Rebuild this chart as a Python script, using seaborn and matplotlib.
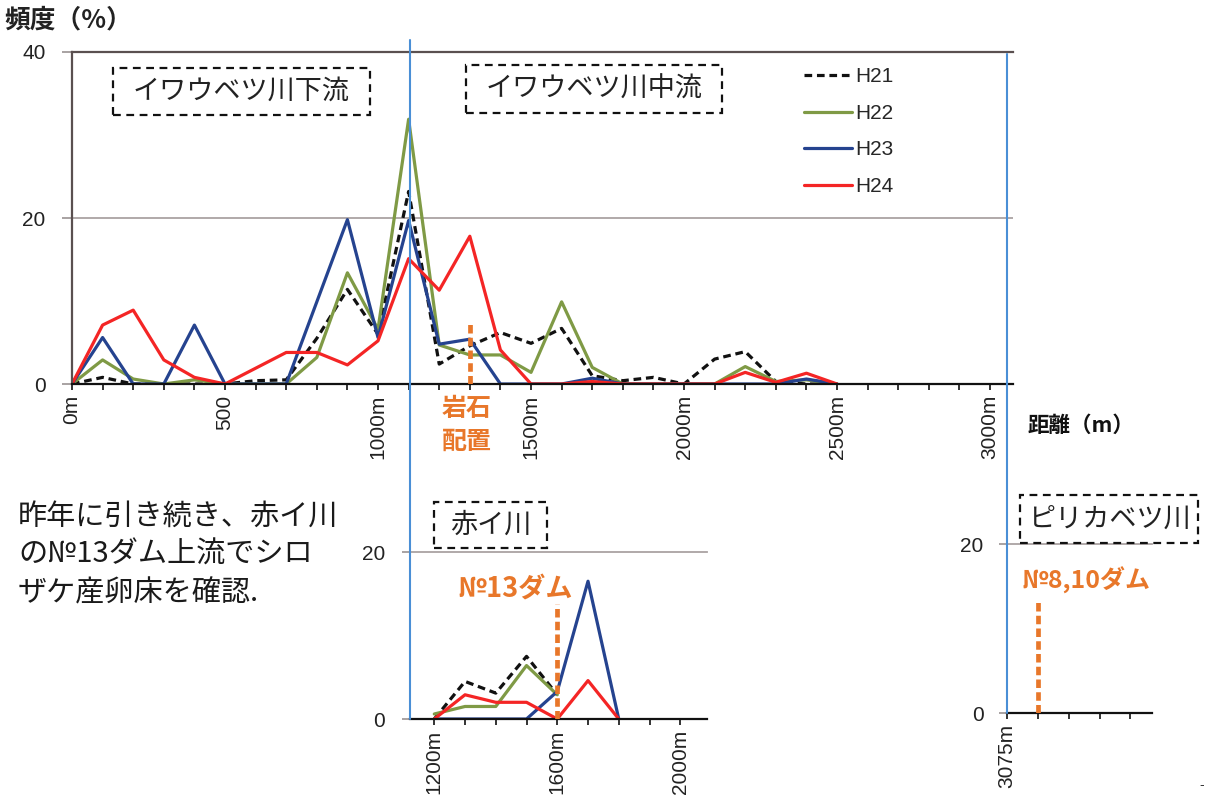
import numpy as np
import pandas as pd
import matplotlib
matplotlib.use("Agg")
import matplotlib.pyplot as plt
from matplotlib.patches import Rectangle
from matplotlib.lines import Line2D
import seaborn as sns

# ---- data ----
years = ["H21", "H22", "H23", "H24"]

# Iwaubetsu river, lower + middle reach (m, %)
dist_main = [0, 100, 200, 300, 400, 500, 600, 700, 800, 900, 1000, 1100, 1200,
             1300, 1400, 1500, 1600, 1700, 1800, 1900, 2000, 2100, 2200, 2300,
             2400, 2500]
main_h21 = [0, 0.8, 0, 0, 0, 0, 0.4, 0.5, 5.5, 11.4, 6.0, 23.2, 2.4, 4.6, 6.2,
            4.9, 6.7, 1.0, 0.4, 0.8, 0, 3.0, 3.9, 0.3, 0, 0]
main_h22 = [0, 2.9, 0.6, 0, 0.5, 0, 0, 0, 3.2, 13.4, 6.6, 31.9, 4.7, 3.5, 3.5,
            1.4, 9.9, 2.0, 0, 0, 0, 0, 2.1, 0.3, 0.5, 0]
main_h23 = [0, 5.6, 0, 0, 7.1, 0, 0, 0, 9.9, 19.8, 5.6, 19.7, 4.8, 5.4, 0, 0,
            0, 0.7, 0, 0, 0, 0, 0, 0, 0.6, 0]
main_h24 = [0, 7.1, 8.9, 2.9, 0.8, 0, 1.9, 3.8, 3.8, 2.3, 5.2, 15.1, 11.3, 17.8,
            4.1, 0, 0, 0.3, 0, 0, 0, 0, 1.4, 0.2, 1.3, 0]

# Akai river
dist_akai = [1200, 1300, 1400, 1500, 1600, 1700, 1800]
akai_h21 = [0, 4.5, 3.1, 7.5, 2.9, np.nan, np.nan]
akai_h22 = [0.6, 1.5, 1.5, 6.4, 2.9, np.nan, np.nan]
akai_h23 = [0, 0, 0, 0, 3.3, 16.5, 0]
akai_h24 = [0, 2.9, 2.0, 2.0, 0, 4.6, 0]

main_xlabels = {0: "0m", 500: "500", 1000: "1000m", 1500: "1500m",
                2000: "2000m", 2500: "2500m", 3000: "3000m"}
akai_xlabels = {1200: "1200m", 1600: "1600m", 2000: "2000m"}
pirika_ticks = [3075, 3175, 3275, 3375, 3475]

rock_pos, rock_h = 1300, 7.5
dam13_pos, dam13_h = 1600, 13.8
dam810_pos, dam810_h = 3175, 13.2

colors = {"H21": "#111111", "H22": "#7f9a45", "H23": "#25438f", "H24": "#f42525"}
dashes = {"H21": (2.4, 1.5), "H22": "", "H23": "", "H24": ""}
ORANGE = "#e8772a"
SEP = "#4a8fd6"

def to_long(x, series):
    rows = []
    for yr, vals in zip(years, series):
        for d, v in zip(x, vals):
            rows.append({"dist": d, "freq": v, "year": yr})
    return pd.DataFrame(rows)

df_main = to_long(dist_main, [main_h21, main_h22, main_h23, main_h24])
df_akai = to_long(dist_akai, [akai_h21, akai_h22, akai_h23, akai_h24])

# ---- figure ----
sns.set_theme(style="white")
plt.rcParams["font.family"] = ["Liberation Sans", "Noto Sans CJK JP", "DejaVu Sans"]
JP = ["Noto Sans CJK JP", "DejaVu Sans"]

W, H = 1205, 805
fig = plt.figure(figsize=(W / 100, H / 100), dpi=100)
fig.patch.set_facecolor("white")

def fx(x):
    return x / W

def fy(y):
    return 1 - y / H

def px_axes(l, t, r, b):
    return fig.add_axes([fx(l), fy(b), (r - l) / W, (b - t) / H])

def style_axes(ax, ytick_len, ypad):
    for s in ["right", "left"]:
        ax.spines[s].set_visible(False)
    ax.spines["bottom"].set_color("#111111")
    ax.spines["bottom"].set_linewidth(1.6)
    ax.spines["top"].set_color("#aaa2a2")
    ax.spines["top"].set_linewidth(1.3)
    ax.tick_params(axis="x", direction="out", length=4, width=1.2,
                   color="#111111", labelsize=15, pad=4, labelcolor="#222222",
                   bottom=True, labelrotation=90)
    ax.tick_params(axis="y", direction="out", length=ytick_len, width=1.2,
                   color="#9a9292", labelsize=15, pad=ypad, labelcolor="#222222",
                   left=True)
    ax.set_xlabel("")
    ax.set_ylabel("")
    ax.grid(False)

def draw_lines(ax, df, legend):
    sns.lineplot(data=df, x="dist", y="freq", hue="year", style="year",
                 palette=colors, dashes=dashes, hue_order=years,
                 style_order=years, linewidth=2.3, legend=legend, ax=ax,
                 sort=True)

def dam_line(ax, pos, height):
    ax.plot([pos, pos], [0, height], color=ORANGE, lw=3.4,
            ls=(0, (1.8, 0.9)), zorder=5)

# main chart
ax = px_axes(72, 52, 1013, 384)
draw_lines(ax, df_main, True)
ax.set_xlim(0, 3075)
ax.set_ylim(0, 40)
ticks = list(range(0, 3001, 100))
ax.set_xticks(ticks)
ax.set_xticklabels([main_xlabels.get(t, "") for t in ticks])
ax.set_yticks([0, 20, 40])
ax.set_yticklabels(["0", "20", "40"])
style_axes(ax, 7, 12)
ax.spines["top"].set_color("#5a5050")
ax.spines["top"].set_linewidth(1.6)
ax.spines["left"].set_visible(True)
ax.spines["left"].set_color("#5a5050")
ax.spines["left"].set_linewidth(1.6)
ax.axhline(20, color="#aaa2a2", lw=1.3, zorder=0)
dam_line(ax, rock_pos, rock_h)

handles, labels = ax.get_legend_handles_labels()
ax.legend(handles, labels, loc="upper left", bbox_to_anchor=(fx(794), fy(57)),
          bbox_transform=fig.transFigure, frameon=False,
          prop={"family": "Liberation Sans", "size": 15},
          handlelength=2.3, handletextpad=0.15, labelspacing=0.84, borderpad=0)

# Akai river chart
ax2 = px_axes(410, 552, 707, 719)
draw_lines(ax2, df_akai, False)
ax2.set_xlim(1121, 2087)
ax2.set_ylim(0, 20)
t2 = list(range(1200, 2001, 100))
ax2.set_xticks(t2)
ax2.set_xticklabels([akai_xlabels.get(t, "") for t in t2])
ax2.set_yticks([0, 20])
ax2.set_yticklabels(["0", "20"])
style_axes(ax2, 6, 12)
dam_line(ax2, dam13_pos, dam13_h)

# Pirikabetsu river chart (no records)
ax3 = px_axes(1007, 544, 1152, 713)
ax3.set_xlim(3075, 3545)
ax3.set_ylim(0, 20)
ax3.set_xticks(pirika_ticks)
ax3.set_xticklabels(["3075m"] + [""] * (len(pirika_ticks) - 1))
ax3.set_yticks([0, 20])
ax3.set_yticklabels(["0", "20"])
style_axes(ax3, 6, 11)
dam_line(ax3, dam810_pos, dam810_h)

# blue separator lines
fig.add_artist(Line2D([fx(410), fx(410)], [fy(40), fy(719)], color=SEP, lw=1.5))
fig.add_artist(Line2D([fx(1007), fx(1007)], [fy(54), fy(713)], color=SEP, lw=1.5))

# dashed label boxes
def label_box(l, t, r, b, text):
    fig.add_artist(Rectangle((fx(l), fy(b)), (r - l) / W, (b - t) / H,
                             transform=fig.transFigure, fill=True, fc="white",
                             ec="#111111", lw=1.6, ls=(0, (3.5, 2.5)), zorder=3))
    fig.text(fx((l + r) / 2), fy((t + b) / 2), text, ha="center", va="center",
             fontsize=19.5, family=JP, color="#222222", zorder=4)

label_box(113, 68, 370, 115, "イワウベツ川下流")
label_box(466, 65, 722, 113, "イワウベツ川中流")
label_box(434, 502, 547, 548, "赤イ川")
label_box(1020, 495, 1198, 543, "ピリカベツ川")

# axis titles
fig.text(fx(4), fy(20), "頻度（%）", ha="left", va="center", fontsize=18.5,
         fontweight="bold", family=JP, color="#222222")
fig.text(fx(1028), fy(425), "距離（m）", ha="left", va="center", fontsize=15.5,
         fontweight="bold", family=JP, color="#111111")

# orange annotations
fig.text(fx(467), fy(409), "岩石", ha="center", va="center", fontsize=18,
         fontweight="bold", family=JP, color=ORANGE)
fig.text(fx(467), fy(442), "配置", ha="center", va="center", fontsize=18,
         fontweight="bold", family=JP, color=ORANGE)
fig.text(fx(515), fy(589), "№13ダム", ha="center", va="center", fontsize=19.5,
         fontweight="bold", family=JP, color=ORANGE)
fig.text(fx(1086), fy(580), "№8,10ダム", ha="center", va="center", fontsize=18,
         fontweight="bold", family=JP, color=ORANGE)

# note on the left
note = ["昨年に引き続き、赤イ川", "の№13ダム上流でシロ", "ザケ産卵床を確認."]
for i, line in enumerate(note):
    fig.text(fx(18), fy(517 + 38 * i), line, ha="left", va="center",
             fontsize=21, family=JP, color="#1a1a1a")

fig.text(fx(1202), fy(785), "-", ha="center", va="center", fontsize=10,
         color="#333333")

plt.savefig("out.png", dpi=100, facecolor="white")
